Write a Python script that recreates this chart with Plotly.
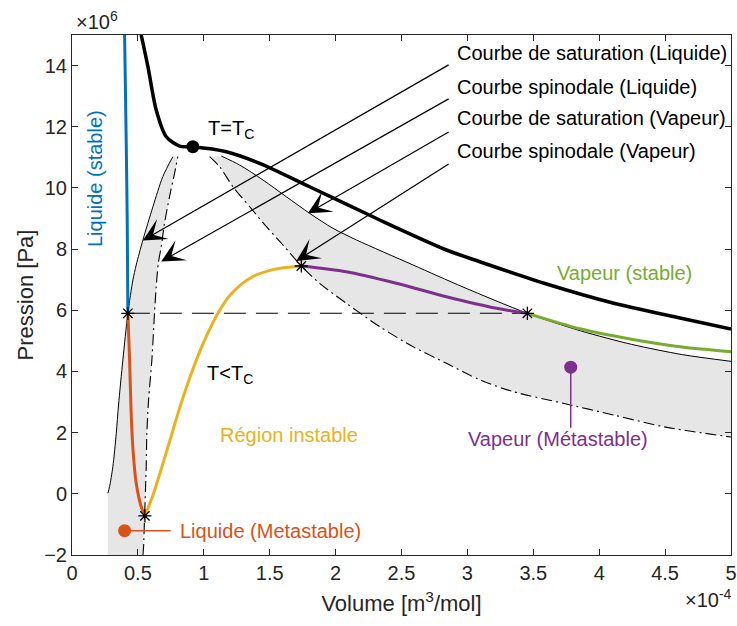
import plotly.graph_objects as go

# Units: volume in 1e-4 m^3/mol, pressure in 1e6 Pa

# Critical isotherm (T = Tc)
crit_v = [0.525, 0.576, 0.639, 0.715, 0.816, 0.917, 1.171, 1.424, 1.803, 2.335, 2.841, 3.094, 3.601, 4.104, 4.613, 5.0]
crit_p = [15.0, 13.963, 12.548, 11.674, 11.370, 11.348, 11.184, 10.805, 10.040, 8.951, 7.971, 7.588, 6.859, 6.238, 5.747, 5.388]
crit_point_v = [0.917]
crit_point_p = [11.348]

# Subcritical isotherm (T < Tc), split by phase region
liq_stable_v = [0.399, 0.410, 0.419, 0.424]
liq_stable_p = [15.0, 11.894, 8.951, 5.901]

liq_meta_v = [0.424, 0.437, 0.448, 0.463, 0.487, 0.525, 0.553]
liq_meta_p = [5.901, 4.375, 2.740, 1.432, 0.354, -0.421, -0.72]

unstable_v = [0.553, 0.614, 0.680, 0.750, 0.820, 0.890, 0.960, 1.030, 1.100, 1.200, 1.350, 1.525, 1.740]
unstable_p = [-0.72, -0.05, 0.85, 1.85, 2.85, 3.75, 4.55, 5.25, 5.85, 6.50, 7.05, 7.33, 7.448]

vap_meta_v = [1.740, 2.082, 2.462, 2.841, 3.221, 3.455]
vap_meta_p = [7.448, 7.261, 6.882, 6.444, 6.065, 5.901]

vap_stable_v = [3.455, 3.861, 4.245, 4.628, 5.0]
vap_stable_p = [5.901, 5.388, 5.055, 4.800, 4.646]

# Saturation pressure (Maxwell plateau) and special points
sat_p = 5.901
plateau_v = [0.424, 3.455]
star_v = [0.424, 0.553, 1.740, 3.455]
star_p = [5.901, -0.72, 7.448, 5.901]

# Saturation (binodal) curve
bin_liq_v = [0.272, 0.285, 0.310, 0.336, 0.353, 0.386, 0.424, 0.462, 0.487, 0.538, 0.614, 0.689, 0.765]
bin_liq_p = [0.017, 0.233, 0.887, 1.978, 2.904, 4.375, 5.901, 6.990, 7.480, 8.298, 9.386, 10.367, 11.021]
bin_vap_v = [1.133, 1.272, 1.449, 1.626, 1.803, 1.980, 2.158, 2.588, 2.967, 3.455, 3.863, 4.247, 4.631, 5.0]
bin_vap_p = [11.043, 10.749, 10.259, 9.713, 9.170, 8.680, 8.300, 7.480, 6.761, 5.901, 5.323, 4.885, 4.551, 4.332]

# Spinodal curve
spin_liq_v = [0.538, 0.543, 0.551, 0.563, 0.568, 0.581, 0.606, 0.626, 0.639, 0.655, 0.677, 0.702, 0.740, 0.778, 0.803]
spin_liq_p = [-2.0, -1.729, -0.692, 0.887, 1.978, 3.067, 4.375, 5.901, 6.771, 7.546, 8.078, 8.844, 9.713, 10.478, 11.021]
spin_vap_v = [1.044, 1.120, 1.221, 1.348, 1.475, 1.601, 1.740, 1.879, 2.082, 2.335, 2.588, 2.841, 3.094, 3.350, 3.734, 4.118, 4.503, 5.0]
spin_vap_p = [11.021, 10.694, 10.040, 9.386, 8.732, 8.134, 7.448, 6.882, 6.228, 5.463, 4.809, 4.267, 3.727, 3.338, 2.953, 2.567, 2.181, 1.857]

# Curve labels with arrows
curve_labels = ["Courbe de saturation (Liquide)", "Courbe spinodale (Liquide)",
                "Courbe de saturation (Vapeur)", "Courbe spinodale (Vapeur)"]
curve_label_v = 2.905
curve_label_p = [14.40, 13.31, 12.28, 11.196]
arrow_tail_v = [2.869, 2.869, 2.869, 2.869]
arrow_tail_p = [14.051, 12.939, 11.860, 10.815]
arrow_head_v = [0.538, 0.677, 1.790, 1.702]
arrow_head_p = [8.281, 7.595, 9.170, 7.611]

x_ticks = [0, 0.5, 1, 1.5, 2, 2.5, 3, 3.5, 4, 4.5, 5]
x_tick_text = ["0", "0.5", "1", "1.5", "2", "2.5", "3", "3.5", "4", "4.5", "5"]
y_ticks = [-2, 0, 2, 4, 6, 8, 10, 12, 14]

BLUE = "#0072BD"
ORANGE = "#D95319"
YELLOW = "#EDB120"
PURPLE = "#7E2F8E"
GREEN = "#77AC30"
GRAY_FILL = "#e6e6e6"
AX = "#262626"
FONT = "Liberation Sans, Arial, sans-serif"

fig = go.Figure()

# Metastable regions (between binodal and spinodal)
left_v = bin_liq_v + spin_liq_v[::-1] + [bin_liq_v[0]]
left_p = bin_liq_p + spin_liq_p[::-1] + [spin_liq_p[0]]
fig.add_trace(go.Scatter(x=left_v, y=left_p, fill="toself", fillcolor=GRAY_FILL,
                         line=dict(width=0), mode="lines", hoverinfo="skip"))
right_v = bin_vap_v + spin_vap_v[::-1]
right_p = bin_vap_p + spin_vap_p[::-1]
fig.add_trace(go.Scatter(x=right_v, y=right_p, fill="toself", fillcolor=GRAY_FILL,
                         line=dict(width=0), mode="lines", hoverinfo="skip"))

def curve(v, p, color, width, dash="solid"):
    fig.add_trace(go.Scatter(x=v, y=p, mode="lines",
                             line=dict(color=color, width=width, dash=dash,
                                       shape="spline", smoothing=0.8)))

# Binodal (thin solid) and spinodal (dash-dot)
curve(bin_liq_v, bin_liq_p, "black", 1)
curve(bin_vap_v, bin_vap_p, "black", 1)
curve(spin_liq_v, spin_liq_p, "black", 1.1, "11px,4px,2px,4px")
curve(spin_vap_v, spin_vap_p, "black", 1.1, "11px,4px,2px,4px")

# Maxwell plateau
fig.add_trace(go.Scatter(x=plateau_v, y=[sat_p, sat_p], mode="lines",
                         line=dict(color="black", width=1.1, dash="22px,10px")))

# Critical isotherm
curve(crit_v, crit_p, "black", 3.5)

# Subcritical isotherm
curve(liq_stable_v, liq_stable_p, BLUE, 3)
curve(liq_meta_v, liq_meta_p, ORANGE, 3)
curve(unstable_v, unstable_p, YELLOW, 3)
curve(vap_meta_v, vap_meta_p, PURPLE, 3)
curve(vap_stable_v, vap_stable_p, GREEN, 3)

# Spinodal / saturation points on the isotherm
fig.add_trace(go.Scatter(x=star_v, y=star_p, mode="markers",
                         marker=dict(symbol="asterisk-open", size=11, color="black",
                                     line=dict(color="black", width=1.3))))
# Critical point
fig.add_trace(go.Scatter(x=crit_point_v, y=crit_point_p, mode="markers",
                         marker=dict(symbol="circle", size=13, color="black")))

# Label pointers for the metastable branches
lbl_liq_v = [0.399, 0.748]
lbl_liq_p = [-1.206, -1.206]
lbl_vap_v = [3.784, 3.784]
lbl_vap_p = [4.139, 2.158]
fig.add_trace(go.Scatter(x=lbl_liq_v, y=lbl_liq_p, mode="lines",
                         line=dict(color=ORANGE, width=1.5)))
fig.add_trace(go.Scatter(x=lbl_liq_v[:1], y=lbl_liq_p[:1], mode="markers",
                         marker=dict(color=ORANGE, size=13)))
fig.add_trace(go.Scatter(x=lbl_vap_v, y=lbl_vap_p, mode="lines",
                         line=dict(color=PURPLE, width=1.5)))
fig.add_trace(go.Scatter(x=lbl_vap_v[:1], y=lbl_vap_p[:1], mode="markers",
                         marker=dict(color=PURPLE, size=13)))

annotations = []
for txt, ty, tv, tp, hv, hp in zip(curve_labels, curve_label_p, arrow_tail_v,
                                   arrow_tail_p, arrow_head_v, arrow_head_p):
    annotations.append(dict(x=hv, y=hp, ax=tv, ay=tp, xref="x", yref="y",
                            axref="x", ayref="y", text="", showarrow=True,
                            arrowhead=3, arrowsize=3.2, arrowwidth=1.2,
                            arrowcolor="black", standoff=0))
    annotations.append(dict(x=curve_label_v, y=ty, xref="x", yref="y", text=txt,
                            showarrow=False, xanchor="left", yanchor="middle",
                            font=dict(size=20, color="black")))

def label(x, y, text, color, xanchor="left", angle=0, size=20):
    annotations.append(dict(x=x, y=y, xref="x", yref="y", text=text,
                            showarrow=False, xanchor=xanchor, yanchor="middle",
                            textangle=angle, font=dict(size=size, color=color)))

label(1.019, 11.9, "T=T<sub>C</sub>", "black")
label(1.006, 3.9, "T<T<sub>C</sub>", "black")
label(0.171, 10.308, "Liquide (stable)", BLUE, xanchor="center", angle=-90)
label(4.195, 7.219, "Vapeur (stable)", GREEN, xanchor="center")
label(1.107, 1.923, "Région instable", YELLOW)
label(3.686, 1.792, "Vapeur (Métastable)", PURPLE, xanchor="center")
label(0.803, -1.206, "Liquide (Metastable)", ORANGE)

# Axis exponent labels
annotations.append(dict(x=0.003, y=1.0, xref="paper", yref="paper", text="×10<sup>6</sup>",
                        showarrow=False, xanchor="left", yanchor="bottom",
                        font=dict(size=20, color=AX)))
annotations.append(dict(x=1.004, y=-0.083, xref="paper", yref="paper", text="×10<sup>-4</sup>",
                        showarrow=False, xanchor="right", yanchor="middle",
                        font=dict(size=20, color=AX)))

axis_common = dict(showline=True, linecolor=AX, linewidth=1, mirror="allticks",
                   ticks="inside", ticklen=6, tickcolor=AX, showgrid=False,
                   zeroline=False, automargin=False, tickfont=dict(size=20, color=AX))

fig.update_layout(
    width=737, height=626,
    margin=dict(l=72, r=6, t=35, b=71),
    paper_bgcolor="white", plot_bgcolor="white",
    showlegend=False,
    font=dict(family=FONT, color=AX),
    xaxis=dict(range=[0, 5], tickvals=x_ticks, ticktext=x_tick_text,
               title=dict(text="Volume [m<sup>3</sup>/mol]", font=dict(size=22, color=AX), standoff=12),
               **axis_common),
    yaxis=dict(range=[-2, 15], tickvals=y_ticks,
               title=dict(text="Pression [Pa]", font=dict(size=22, color=AX), standoff=4),
               **axis_common),
    annotations=annotations,
)

fig.write_html("out.html")
